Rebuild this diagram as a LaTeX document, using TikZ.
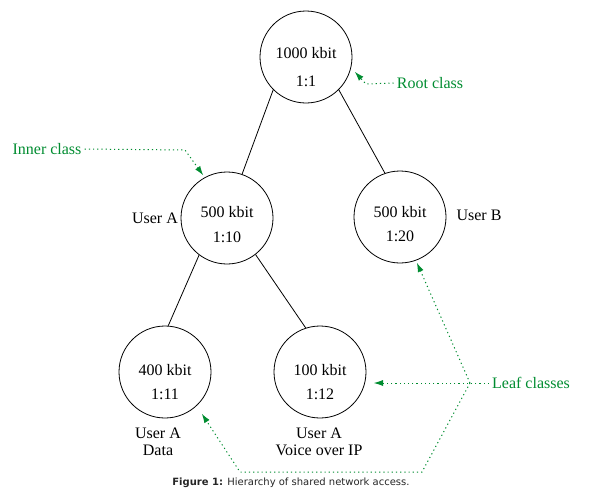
\documentclass[tikz,border=0pt]{standalone}
\usepackage{fontspec}
\setmainfont{Liberation Serif}
\newfontfamily\capfont{DejaVu Sans}
\usetikzlibrary{arrows.meta}
\definecolor{anngreen}{RGB}{0,140,48}
\begin{document}
\begin{tikzpicture}[x=1pt,y=-1pt,
  cls/.style={draw=black,line width=0.8pt,circle,minimum size=92pt,inner sep=0pt},
  txt/.style={font=\fontsize{16}{17}\selectfont,inner sep=1pt},
  lbl/.style={font=\fontsize{16}{17}\selectfont,inner sep=1pt,align=center},
  glbl/.style={font=\fontsize{16}{17}\selectfont,text=anngreen,inner sep=3pt},
  edge/.style={draw=black,line width=0.8pt},
  ann/.style={draw=anngreen,line width=1pt,dash pattern=on 1.2pt off 3pt},
  annarr/.style={ann,-{Latex[length=9pt,width=6pt,fill=anngreen,line width=0pt]}}]
\useasboundingbox (0,0) rectangle (596,496);

% classes
\node[cls] (root) at (306,57) {};
\node[txt] (rootbw) at (306,53) {1000 kbit};
\node[txt] (rootid) at (306,81) {1:1};

\node[cls] (inner) at (227,218) {};
\node[txt] (innerbw) at (227,212) {500 kbit};
\node[txt] (innerid) at (227,237) {1:10};

\node[cls] (userb) at (400,217) {};
\node[txt] (userbbw) at (400,212) {500 kbit};
\node[txt] (userbid) at (400,236) {1:20};

\node[cls] (leafa) at (165,372) {};
\node[txt] (leafabw) at (165,370) {400 kbit};
\node[txt] (leafaid) at (165,394) {1:11};

\node[cls] (leafb) at (320,372) {};
\node[txt] (leafbbw) at (320,370) {100 kbit};
\node[txt] (leafbid) at (320,394) {1:12};

% edges
\draw[edge] (root.225) -- (inner.71);
\draw[edge] (root.315) -- (userb.109);
\draw[edge] (inner.233) -- (leafa.86);
\draw[edge] (inner.308) -- (leafb.108);

% user labels
\node[lbl] (usera) at (155,218) {User A};
\node[lbl] (userblbl) at (479,215) {User B};
\node[lbl] (leafalbl) at (158,442) {User A\\Data};
\node[lbl] (leafblbl) at (319,442) {User A\\Voice over IP};

% annotations
\node[glbl] (innerlbl) at (47,149) {Inner class};
\coordinate (icbend) at (185,150);
\coordinate (ictip) at (203,175);
\draw[annarr] (innerlbl.east) -- (icbend) -- (ictip);

\node[glbl] (rootlbl) at (430,83) {Root class};
\coordinate (rcbend) at (366,84);
\coordinate (rctip) at (355,72);
\draw[annarr] (rootlbl.west) -- (rcbend) -- (rctip);

\node[glbl] (leaflbl) at (531,383) {Leaf classes};
\coordinate (lbtip) at (374,383);
\coordinate (lj) at (470,383);
\coordinate (ubtip) at (417,263);
\coordinate (ld1) at (422,472);
\coordinate (ld2) at (240,472);
\coordinate (latip) at (202,414);
\draw[annarr] (leaflbl.west) -- (lbtip);
\draw[annarr] (lj) -- (ubtip);
\draw[annarr] (lj) -- (ld1) -- (ld2) -- (latip);

% caption
\node[font=\capfont\fontsize{10}{12}\selectfont,text=black!85,inner sep=0pt] (caption) at (291,483)
  {\textbf{Figure 1:} Hierarchy of shared network access.};
\end{tikzpicture}
\end{document}
